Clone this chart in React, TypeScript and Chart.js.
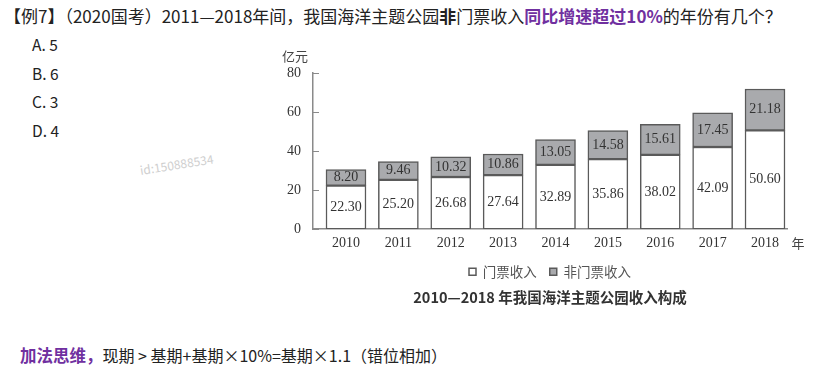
import React, { useEffect, useRef } from 'react';
import { Chart, registerables } from 'chart.js';

Chart.register(...registerables);

// ---- data ----
const years = ['2010', '2011', '2012', '2013', '2014', '2015', '2016', '2017', '2018'];
const ticketIncome = [22.3, 25.2, 26.68, 27.64, 32.89, 35.86, 38.02, 42.09, 50.6];
const nonTicketIncome = [8.2, 9.46, 10.32, 10.86, 13.05, 14.58, 15.61, 17.45, 21.18];
const yTickValues = [0, 20, 40, 60, 80];
const seriesNames = ['门票收入', '非门票收入'];
const chartTitle = '2010—2018 年我国海洋主题公园收入构成';
const yUnit = '亿元';
const xUnit = '年';
const answerOptions = ['A. 5', 'B. 6', 'C. 3', 'D. 4'];

const SERIF = '"Liberation Serif", "Times New Roman", serif';
const SANS = '"Noto Sans CJK SC", "Noto Sans", sans-serif';

export default function App() {
  const ref = useRef<HTMLCanvasElement>(null);

  useEffect(() => {
    if (!ref.current) return;

    const segLabels = {
      id: 'segLabels',
      afterDatasetsDraw(chart: any) {
        const ctx = chart.ctx;
        ctx.save();
        ctx.font = `14px ${SERIF}`;
        ctx.fillStyle = '#333';
        ctx.textAlign = 'center';
        ctx.textBaseline = 'middle';
        chart.data.datasets.forEach((ds: any, di: number) => {
          const meta = chart.getDatasetMeta(di);
          meta.data.forEach((el: any, i: number) => {
            const { x, y, base } = el.getProps(['x', 'y', 'base'], true);
            const v = ds.data[i].y as number;
            ctx.fillText(v.toFixed(2), x, (y + base) / 2);
          });
        });
        ctx.restore();
      },
    };

    const axisDeco = {
      id: 'axisDeco',
      afterDraw(chart: any) {
        const { ctx, chartArea, scales } = chart;
        ctx.save();
        ctx.strokeStyle = '#8a8a8a';
        ctx.lineWidth = 1;
        yTickValues.forEach((v) => {
          const py = Math.round(scales.y.getPixelForValue(v)) + 0.5;
          ctx.beginPath();
          ctx.moveTo(chartArea.left, py);
          ctx.lineTo(chartArea.left + 6, py);
          ctx.stroke();
        });
        ctx.fillStyle = '#444';
        ctx.font = `13px ${SANS}`;
        ctx.textAlign = 'center';
        ctx.textBaseline = 'middle';
        ctx.fillText(yUnit, chartArea.left - 18, chartArea.top - 17);
        ctx.fillText(xUnit, chartArea.right + 11, chartArea.bottom + 14);
        ctx.restore();
      },
    };

    const chart = new Chart(ref.current, {
      type: 'bar',
      data: {
        datasets: [
          {
            label: seriesNames[0],
            data: ticketIncome.map((v, i) => ({ x: i, y: v })),
            backgroundColor: '#ffffff',
            borderColor: '#5a5a5a',
            borderWidth: 1.5,
            borderSkipped: false,
            barThickness: 40,
          },
          {
            label: seriesNames[1],
            data: nonTicketIncome.map((v, i) => ({ x: i, y: v })),
            backgroundColor: '#a9aaad',
            borderColor: '#5a5a5a',
            borderWidth: 1.5,
            borderSkipped: false,
            barThickness: 40,
          },
        ],
      },
      options: {
        responsive: false,
        animation: false,
        layout: { padding: { left: 0, right: 26, top: 33, bottom: 0 } },
        scales: {
          x: {
            type: 'linear',
            min: -0.63,
            max: 8.42,
            offset: false,
            stacked: true,
            grid: { display: false, drawTicks: false, tickLength: 0, offset: false },
            border: { display: true, color: '#8a8a8a', width: 1.5 },
            afterBuildTicks: (ax: any) => {
              ax.ticks = years.map((_, i) => ({ value: i }));
            },
            afterFit: (ax: any) => {
              ax.height = 23;
            },
            ticks: {
              padding: 6,
              autoSkip: false,
              maxRotation: 0,
              color: '#333',
              font: { family: SERIF, size: 14 },
              callback: (v: any) => years[v as number] ?? '',
            },
          },
          y: {
            min: 0,
            max: 80,
            stacked: true,
            grid: { display: false, drawTicks: false, tickLength: 0 },
            border: { display: true, color: '#8a8a8a', width: 1.5 },
            afterFit: (ax: any) => {
              ax.width = 63;
            },
            ticks: {
              stepSize: 20,
              padding: 12,
              color: '#333',
              font: { family: SERIF, size: 14 },
            },
          },
        },
        plugins: {
          legend: {
            position: 'bottom',
            fullSize: false,
            labels: {
              boxWidth: 7,
              boxHeight: 7,
              padding: 13,
              color: '#555',
              font: { family: SANS, size: 13.5 },
            },
          },
          title: {
            display: true,
            text: chartTitle,
            position: 'bottom',
            fullSize: false,
            color: '#333',
            font: { family: SANS, size: 14.5, weight: 'bold' },
            padding: { top: 0, bottom: 0 },
          },
          tooltip: { enabled: false },
        },
      } as any,
      plugins: [segLabels, axisDeco],
    });

    return () => chart.destroy();
  }, []);

  return (
    <div
      style={{
        position: 'fixed',
        left: 0,
        top: 0,
        width: 813,
        height: 391,
        background: '#fff',
        overflow: 'hidden',
        fontFamily: SANS,
        color: '#222',
      }}
    >
      <div style={{ position: 'absolute', left: 4, top: 4, fontSize: 17, lineHeight: '24px', whiteSpace: 'nowrap' }}>
        【例7】（2020国考）2011—2018年间，我国海洋主题公园<b>非</b>门票收入
        <span style={{ color: '#7030a0', fontWeight: 'bold' }}>同比增速超过10%</span>的年份有几个？
      </div>
      {answerOptions.map((o, i) => (
        <div
          key={o}
          style={{ position: 'absolute', left: 32, top: 33 + i * 28.7, fontSize: 15.5, lineHeight: '22px', whiteSpace: 'nowrap' }}
        >
          {o}
        </div>
      ))}
      <div
        style={{
          position: 'absolute',
          left: 140,
          top: 161,
          fontSize: 12,
          color: '#cfcfcf',
          transform: 'rotate(-9deg)',
          transformOrigin: 'left center',
          whiteSpace: 'nowrap',
        }}
      >
        id:150888534
      </div>
      <canvas ref={ref} width={563} height={266} style={{ position: 'absolute', left: 250, top: 40, width: 563, height: 266 }} />
      <div style={{ position: 'absolute', left: 20, top: 342, fontSize: 16, lineHeight: '26px', whiteSpace: 'nowrap' }}>
        <span style={{ color: '#7030a0', fontWeight: 'bold', fontSize: 16.5 }}>加法思维，</span>现期 &gt; 基期+基期×10%=基期×1.1（错位相加）
      </div>
    </div>
  );
}
